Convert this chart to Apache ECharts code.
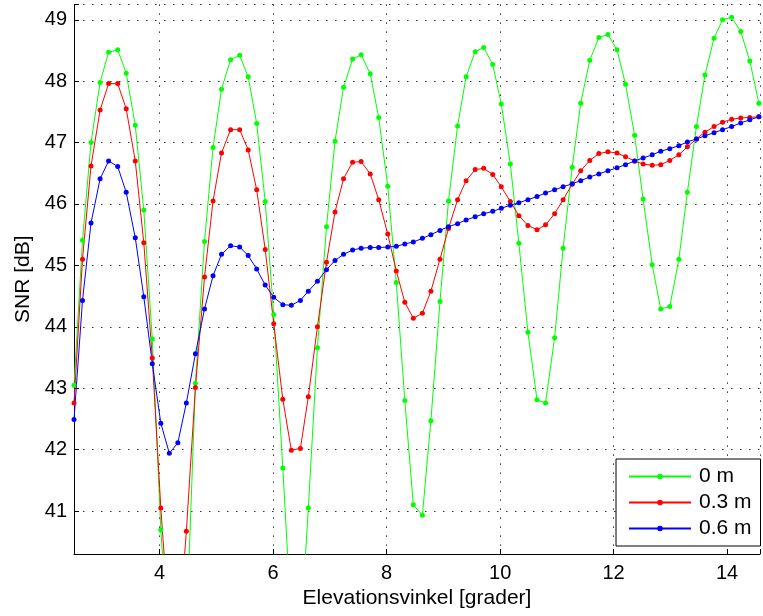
<!DOCTYPE html>
<html>
<head>
<meta charset="utf-8">
<script src="https://cdn.jsdelivr.net/npm/echarts@6/dist/echarts.min.js"></script>
<style>
  html, body { margin: 0; padding: 0; background: #fff; }
  #chart { width: 763px; height: 616px; }
</style>
</head>
<body>
<div id="chart"></div>
<script>
// Elevation angle [degrees] of each sample
const elevation = [
  2.49, 2.64, 2.79, 2.95, 3.10, 3.26, 3.41, 3.57, 3.72, 3.87,
  4.02, 4.17, 4.32, 4.47, 4.63, 4.79, 4.94, 5.09, 5.25, 5.41,
  5.56, 5.71, 5.86, 6.01, 6.17, 6.32, 6.48, 6.62, 6.78, 6.94,
  7.09, 7.24, 7.40, 7.55, 7.71, 7.86, 8.02, 8.17, 8.32, 8.47,
  8.63, 8.78, 8.94, 9.09, 9.25, 9.40, 9.56, 9.71, 9.87, 10.02,
  10.18, 10.33, 10.49, 10.65, 10.80, 10.96, 11.11, 11.27, 11.42, 11.58,
  11.74, 11.90, 12.06, 12.21, 12.37, 12.52, 12.68, 12.83, 12.99, 13.15,
  13.30, 13.46, 13.61, 13.77, 13.92, 14.08, 14.24, 14.40, 14.56
];
// SNR [dB], antenna height 0 m
const snr0m = [
  43.05, 45.41, 47.00, 47.98, 48.47, 48.51, 48.13, 47.28, 45.90, 43.80,
  40.69, 38.70, 38.20, 39.00, 43.08, 45.39, 46.92, 47.87, 48.35, 48.42,
  48.07, 47.31, 46.04, 44.20, 41.70, 39.20, 38.90, 41.05, 43.66, 45.63,
  47.02, 47.90, 48.36, 48.43, 48.12, 47.41, 46.29, 44.72, 42.80, 41.10,
  40.93, 42.47, 44.41, 46.05, 47.27, 48.07, 48.48, 48.55, 48.27, 47.63,
  46.65, 45.36, 43.91, 42.81, 42.76, 43.82, 45.28, 46.60, 47.64, 48.34,
  48.71, 48.76, 48.51, 47.95, 47.12, 46.08, 45.01, 44.29, 44.33, 45.10,
  46.19, 47.26, 48.10, 48.70, 49.00, 49.04, 48.81, 48.33, 47.64
];
// SNR [dB], antenna height 0.3 m
const snr03m = [
  42.76, 45.10, 46.62, 47.53, 47.96, 47.96, 47.55, 46.70, 45.37, 43.49,
  41.05, 39.10, 38.80, 40.67, 43.01, 44.81, 46.05, 46.83, 47.21, 47.21,
  46.88, 46.23, 45.26, 44.05, 42.82, 41.99, 42.02, 42.86, 44.00, 45.05,
  45.87, 46.41, 46.68, 46.69, 46.49, 46.07, 45.51, 44.91, 44.40, 44.14,
  44.22, 44.58, 45.10, 45.60, 46.07, 46.38, 46.56, 46.58, 46.48, 46.28,
  46.04, 45.81, 45.65, 45.58, 45.66, 45.84, 46.07, 46.32, 46.54, 46.71,
  46.82, 46.85, 46.83, 46.77, 46.70, 46.65, 46.63, 46.64, 46.71, 46.80,
  46.93, 47.06, 47.17, 47.26, 47.33, 47.38, 47.40, 47.41, 47.42
];
// SNR [dB], antenna height 0.6 m
const snr06m = [
  42.49, 44.43, 45.69, 46.41, 46.70, 46.61, 46.19, 45.45, 44.49, 43.40,
  42.43, 41.94, 42.11, 42.76, 43.56, 44.29, 44.83, 45.18, 45.32, 45.30,
  45.16, 44.94, 44.68, 44.48, 44.36, 44.35, 44.43, 44.58, 44.74, 44.93,
  45.08, 45.18, 45.25, 45.28, 45.29, 45.29, 45.30, 45.31, 45.35, 45.38,
  45.44, 45.50, 45.57, 45.63, 45.68, 45.74, 45.79, 45.84, 45.88, 45.93,
  45.98, 46.02, 46.07, 46.12, 46.18, 46.23, 46.28, 46.33, 46.38, 46.44,
  46.49, 46.54, 46.59, 46.64, 46.70, 46.75, 46.80, 46.86, 46.90, 46.95,
  47.01, 47.06, 47.11, 47.16, 47.21, 47.26, 47.32, 47.37, 47.42
];
const seriesNames = ['0 m', '0.3 m', '0.6 m'];
const seriesColors = ['#00ff00', '#ff0000', '#0000ff'];
const seriesValues = [snr0m, snr03m, snr06m];

const FONT = 'Liberation Sans, Arial, Helvetica, sans-serif';
const gridDots = { color: '#333', width: 1, type: [1.5, 7.5] };

const chart = echarts.init(document.getElementById('chart'), null, { renderer: 'canvas' });
chart.setOption({
  animation: false,
  backgroundColor: '#ffffff',
  grid: { left: 74, right: 0.7, top: 4.4, bottom: 62, containLabel: false },
  xAxis: {
    type: 'value',
    min: 2.49,
    max: 14.58,
    splitNumber: 6,
    name: 'Elevationsvinkel [grader]',
    nameLocation: 'middle',
    nameGap: 30,
    nameTextStyle: { fontFamily: FONT, fontSize: 21, color: '#000' },
    axisLine: { onZero: false, lineStyle: { color: '#000', width: 1 } },
    axisTick: { inside: true, length: 5, lineStyle: { color: '#000' } },
    axisLabel: {
      margin: 9, fontFamily: FONT, fontSize: 20, color: '#000',
      formatter: v => (Math.abs(v - Math.round(v)) < 1e-6 && Math.round(v) % 2 === 0) ? String(Math.round(v)) : ''
    },
    splitLine: { show: true, lineStyle: gridDots }
  },
  yAxis: {
    type: 'value',
    min: 40.3,
    max: 49.25,
    splitNumber: 9,
    name: 'SNR [dB]',
    nameLocation: 'middle',
    nameGap: 40,
    nameTextStyle: { fontFamily: FONT, fontSize: 21, color: '#000' },
    axisLine: { show: true, onZero: false, lineStyle: { color: '#000', width: 1 } },
    axisTick: { show: true, inside: true, length: 5, lineStyle: { color: '#000' } },
    axisLabel: {
      margin: 7, fontFamily: FONT, fontSize: 20, color: '#000',
      formatter: v => (Math.abs(v - Math.round(v)) < 1e-6) ? String(Math.round(v)) : ''
    },
    splitLine: { show: true, lineStyle: gridDots }
  },
  legend: {
    orient: 'vertical',
    left: 616,
    top: 459,
    padding: [7, 9, 7, 12],
    itemWidth: 62,
    itemHeight: 7,
    itemGap: 5,
    backgroundColor: '#fff',
    borderColor: '#000',
    borderWidth: 1,
    borderRadius: 0,
    textStyle: { fontFamily: FONT, fontSize: 21, color: '#000', lineHeight: 21, padding: [0, 0, 0, 3] },
    data: seriesNames
  },
  series: seriesNames.map((name, k) => ({
    name: name,
    type: 'line',
    clip: true,
    symbol: 'circle',
    symbolSize: 5,
    showSymbol: true,
    color: seriesColors[k],
    lineStyle: { color: seriesColors[k], width: 1 },
    itemStyle: { color: seriesColors[k] },
    emphasis: { disabled: true },
    data: elevation.map((x, i) => [x, seriesValues[k][i]])
  }))
});
</script>
</body>
</html>
